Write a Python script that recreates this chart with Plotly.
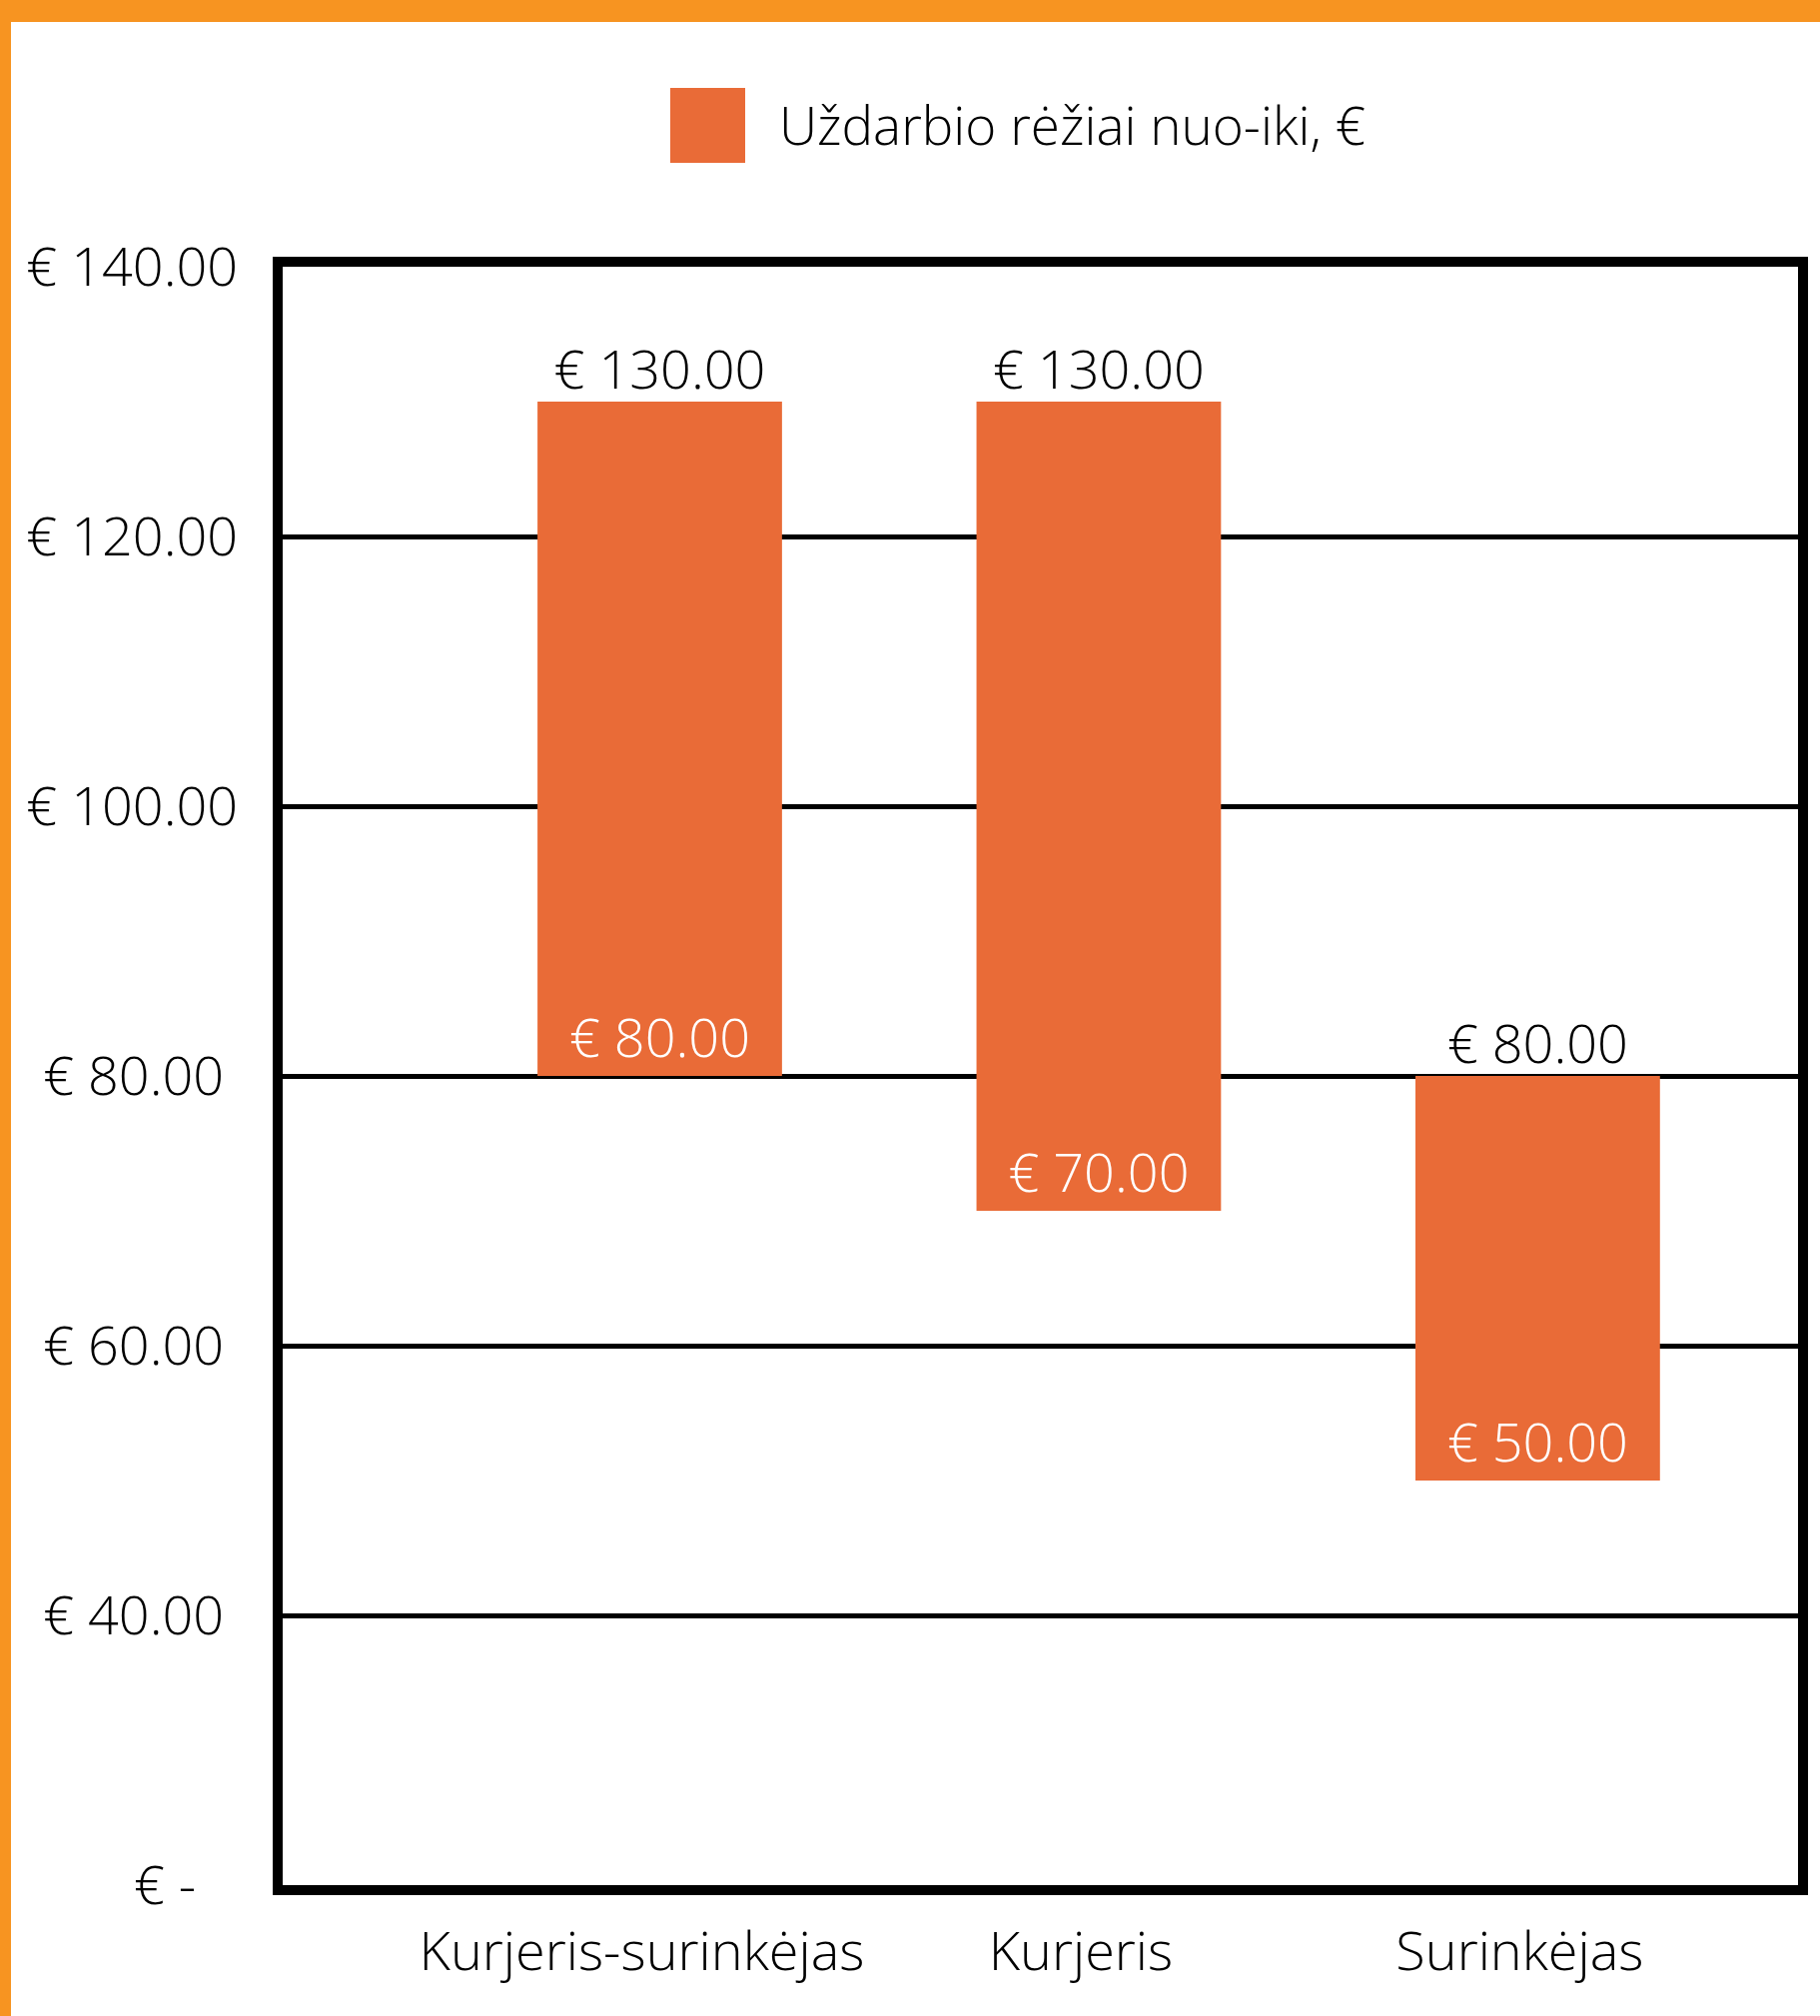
import plotly.graph_objects as go

categories = ["Kurjeris-surinkėjas", "Kurjeris", "Surinkėjas"]
low_values = [80, 70, 50]
high_values = [130, 130, 80]
legend_label = "Uždarbio rėžiai nuo-iki, €"
y_tick_vals = [20, 40, 60, 80, 100, 120, 140]
y_tick_text = ["€ -\u00a0\u00a0\u00a0", "€ 40.00\u00a0", "€ 60.00\u00a0", "€ 80.00\u00a0",
               "€ 100.00", "€ 120.00", "€ 140.00"]

BAR = "#E96B37"
BORDER = "#F79421"
FONT = "Open Sans"
FS = 54

W, H = 1822, 2018
L, R, T, B = 283, 22, 267, 131
PW, PH = W - L - R, H - T - B


def px(x):
    return (x - L) / PW


def py(y):
    return (H - B - y) / PH


def fmt(v):
    return f"€ {v:.2f}"


fig = go.Figure()
fig.add_trace(go.Bar(
    x=categories,
    y=[h - l for h, l in zip(high_values, low_values)],
    base=low_values,
    marker=dict(color=BAR, line=dict(width=0)),
    width=0.557,
    text=[fmt(v) for v in low_values],
    textposition="inside",
    insidetextanchor="start",
    textangle=0,
    textfont=dict(family=FONT, size=FS, color="white", weight=300),
    showlegend=False,
    hoverinfo="skip",
))
fig.add_trace(go.Scatter(
    x=categories,
    y=high_values,
    mode="text",
    text=[fmt(v) for v in high_values],
    textposition="top center",
    textfont=dict(family=FONT, size=FS, color="black", weight=300),
    showlegend=False,
    hoverinfo="skip",
))

shapes = [
    # orange page border (top and left)
    dict(type="rect", xref="paper", yref="paper", x0=px(0), x1=px(W), y0=py(22), y1=py(0),
         fillcolor=BORDER, line=dict(width=0), layer="above"),
    dict(type="rect", xref="paper", yref="paper", x0=px(0), x1=px(11), y0=py(H), y1=py(0),
         fillcolor=BORDER, line=dict(width=0), layer="above"),
    # legend swatch
    dict(type="rect", xref="paper", yref="paper", x0=px(671), x1=px(746), y0=py(163), y1=py(88),
         fillcolor=BAR, line=dict(width=0)),
]

annotations = [
    dict(xref="paper", yref="paper", x=px(778), y=py(125), xanchor="left", yanchor="middle",
         text=legend_label, showarrow=False,
         font=dict(family=FONT, size=53, color="black", weight=300)),
]

fig.update_layout(
    width=W, height=H,
    margin=dict(l=L, r=R, t=T, b=B),
    paper_bgcolor="white", plot_bgcolor="white",
    shapes=shapes, annotations=annotations,
    showlegend=False,
    font=dict(family=FONT, size=FS, color="black", weight=300),
    xaxis=dict(
        type="category",
        range=[-0.859, 2.593],
        showline=True, linecolor="black", linewidth=10, mirror=True,
        showgrid=False, ticks="", zeroline=False,
        tickfont=dict(family=FONT, size=FS, color="black", weight=300),
        ticklabelstandoff=10,
        ticklabelshift=-18,
    ),
    yaxis=dict(
        range=[20, 140],
        tickvals=y_tick_vals, ticktext=y_tick_text,
        showline=True, linecolor="black", linewidth=10, mirror=True,
        showgrid=True, gridcolor="black", gridwidth=5,
        ticks="", zeroline=False,
        tickfont=dict(family=FONT, size=FS, color="black", weight=300),
        ticklabelstandoff=24,
    ),
)

fig.write_html(
    "out.html",
    config={"displayModeBar": False},
    post_script="document.body.style.margin='0';document.body.style.padding='0';",
)
